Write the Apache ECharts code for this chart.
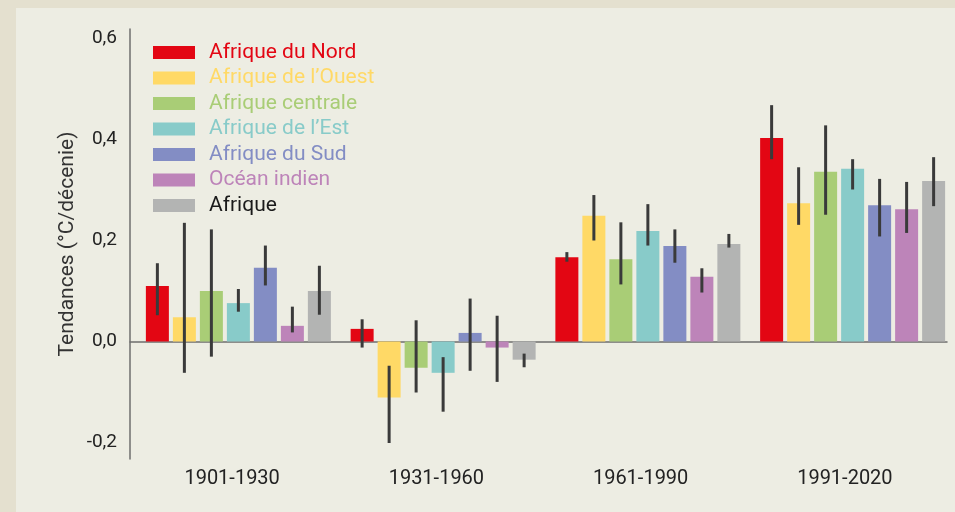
<!DOCTYPE html>
<html>
<head>
<meta charset="utf-8">
<script src="https://cdn.jsdelivr.net/npm/echarts@6/dist/echarts.min.js"></script>
<style>
  html, body { margin: 0; padding: 0; background: #e4e0cf; }
  #panel { position: absolute; left: 16px; top: 8px; width: 939px; height: 504px; background: #edede3; }
  #chart { position: absolute; left: 0; top: 0; width: 955px; height: 512px; }
</style>
</head>
<body>
<div id="panel"></div>
<div id="chart"></div>
<script>
// ---- Data ----
const categories = ['1901-1930', '1931-1960', '1961-1990', '1991-2020'];
const regionNames = ['Afrique du Nord', "Afrique de l\u2019Ouest", 'Afrique centrale', "Afrique de l\u2019Est", 'Afrique du Sud', 'Océan indien', 'Afrique'];

const nordVals = [0.110, 0.025, 0.167, 0.403];
const nordLow  = [0.052, -0.012, 0.158, 0.361];
const nordHigh = [0.155, 0.044, 0.177, 0.468];

const ouestVals = [0.048, -0.111, 0.249, 0.274];
const ouestLow  = [-0.062, -0.201, 0.200, 0.231];
const ouestHigh = [0.235, -0.048, 0.290, 0.345];

const centraleVals = [0.100, -0.052, 0.163, 0.336];
const centraleLow  = [-0.030, -0.101, 0.113, 0.251];
const centraleHigh = [0.222, 0.042, 0.236, 0.428];

const estVals = [0.076, -0.062, 0.219, 0.342];
const estLow  = [0.059, -0.139, 0.190, 0.301];
const estHigh = [0.104, -0.031, 0.272, 0.361];

const sudVals = [0.146, 0.017, 0.189, 0.270];
const sudLow  = [0.111, -0.058, 0.156, 0.208];
const sudHigh = [0.190, 0.085, 0.222, 0.322];

const oceanVals = [0.031, -0.012, 0.128, 0.262];
const oceanLow  = [0.018, -0.080, 0.097, 0.215];
const oceanHigh = [0.069, 0.051, 0.145, 0.316];

const afriqueVals = [0.100, -0.036, 0.193, 0.318];
const afriqueLow  = [0.053, -0.051, 0.186, 0.268];
const afriqueHigh = [0.150, -0.024, 0.213, 0.365];

const yTicks = [-0.2, 0, 0.2, 0.4, 0.6];
const yTitle = 'Tendances (°C/décenie)';

// ---- Styling ----
const colors = ['#e30613', '#ffd966', '#a9cd76', '#88cbc9', '#838dc4', '#bd84b9', '#b3b4b3'];
const legendTextColors = ['#e30613', '#ffd966', '#a9cd76', '#88cbc9', '#838dc4', '#bd84b9', '#1a1a1a'];
const FONT = 'Roboto';
const BAR_W = 23, BAR_GAP = 4;

const allVals = [nordVals, ouestVals, centraleVals, estVals, sudVals, oceanVals, afriqueVals];
const allLow = [nordLow, ouestLow, centraleLow, estLow, sudLow, oceanLow, afriqueLow];
const allHigh = [nordHigh, ouestHigh, centraleHigh, estHigh, sudHigh, oceanHigh, afriqueHigh];

const yMin = yTicks[0], yMax = yTicks[yTicks.length - 1], yStep = yTicks[1] - yTicks[0];
// pixel layout
const zeroY = 341.5, pxPerUnit = 505;
const gridATop = zeroY - yMax * pxPerUnit;
const gridAHeight = (yMax - yMin) * pxPerUnit;
const axTop = 29, axBottom = 459;
const bMax = (zeroY - axTop) / pxPerUnit;
const bMin = -(axBottom - zeroY) / pxPerUnit;

const barSeries = regionNames.map((n, i) => ({
  name: n,
  type: 'bar',
  xAxisIndex: 0, yAxisIndex: 0,
  data: allVals[i],
  barWidth: BAR_W,
  barGap: (BAR_GAP / BAR_W * 100).toFixed(2) + '%',
  itemStyle: { color: colors[i] },
  z: 3,
  animation: false
}));

const errData = [];
regionNames.forEach((n, i) => {
  categories.forEach((c, k) => {
    errData.push([k, allLow[i][k], allHigh[i][k], i]);
  });
});

const errSeries = {
  name: 'err',
  type: 'custom',
  xAxisIndex: 0, yAxisIndex: 0,
  data: errData,
  z: 6,
  animation: false,
  renderItem: function (params, api) {
    const k = api.value(0);
    const p1 = api.coord([k, api.value(1)]);
    const p2 = api.coord([k, api.value(2)]);
    const off = (api.value(3) - 3) * (BAR_W + BAR_GAP);
    return {
      type: 'line',
      shape: { x1: p1[0] + off, y1: p1[1], x2: p2[0] + off, y2: p2[1] },
      style: { stroke: '#3a3a3a', lineWidth: 3 }
    };
  }
};

const fmt = v => (Math.round(v * 10) / 10).toFixed(1).replace('.', ',');

const option = {
  backgroundColor: 'transparent',
  animation: false,
  textStyle: { fontFamily: FONT },
  legend: {
    orient: 'vertical',
    left: 153,
    top: 42,
    padding: 0,
    itemWidth: 42,
    itemHeight: 13,
    itemGap: 4.5,
    icon: 'rect',
    selectedMode: false,
    data: regionNames.map((n, i) => ({ name: n, textStyle: { color: legendTextColors[i] } })),
    textStyle: { fontFamily: FONT, fontSize: 21, lineHeight: 21, padding: [0, 0, 0, 9] }
  },
  grid: [
    { left: 136, width: 820, top: gridATop, height: gridAHeight },
    { left: 130, right: 8, top: axTop, height: axBottom - axTop }
  ],
  xAxis: [
    { type: 'category', gridIndex: 0, data: categories, show: false },
    { type: 'category', gridIndex: 1, data: categories,
      axisLine: { show: true, onZero: true, lineStyle: { color: '#6e6e6e', width: 1.5 } },
      axisTick: { show: false }, axisLabel: { show: false } },
    { type: 'category', gridIndex: 1, data: categories, position: 'bottom',
      axisLine: { show: false, onZero: false }, axisTick: { show: false },
      axisLabel: { show: true, fontFamily: FONT, fontSize: 20, color: '#222', margin: 10 } }
  ],
  yAxis: [
    { type: 'value', gridIndex: 0, min: yMin, max: yMax, interval: yStep,
      axisLine: { show: false }, axisTick: { show: false }, splitLine: { show: false },
      axisLabel: { fontFamily: FONT, fontSize: 19, color: '#222', margin: 19, formatter: fmt } },
    { type: 'value', gridIndex: 1, min: bMin, max: bMax,
      axisLine: { show: true, lineStyle: { color: '#6e6e6e', width: 1.5 } },
      axisTick: { show: false }, splitLine: { show: false }, axisLabel: { show: false },
      name: yTitle, nameLocation: 'middle', nameRotate: 90, nameGap: 52,
      nameTextStyle: { fontFamily: FONT, fontSize: 21, color: '#333' } }
  ],
  series: barSeries.concat([errSeries])
};

const chart = echarts.init(document.getElementById('chart'), null, { renderer: 'canvas' });
chart.setOption(option);
</script>
</body>
</html>
